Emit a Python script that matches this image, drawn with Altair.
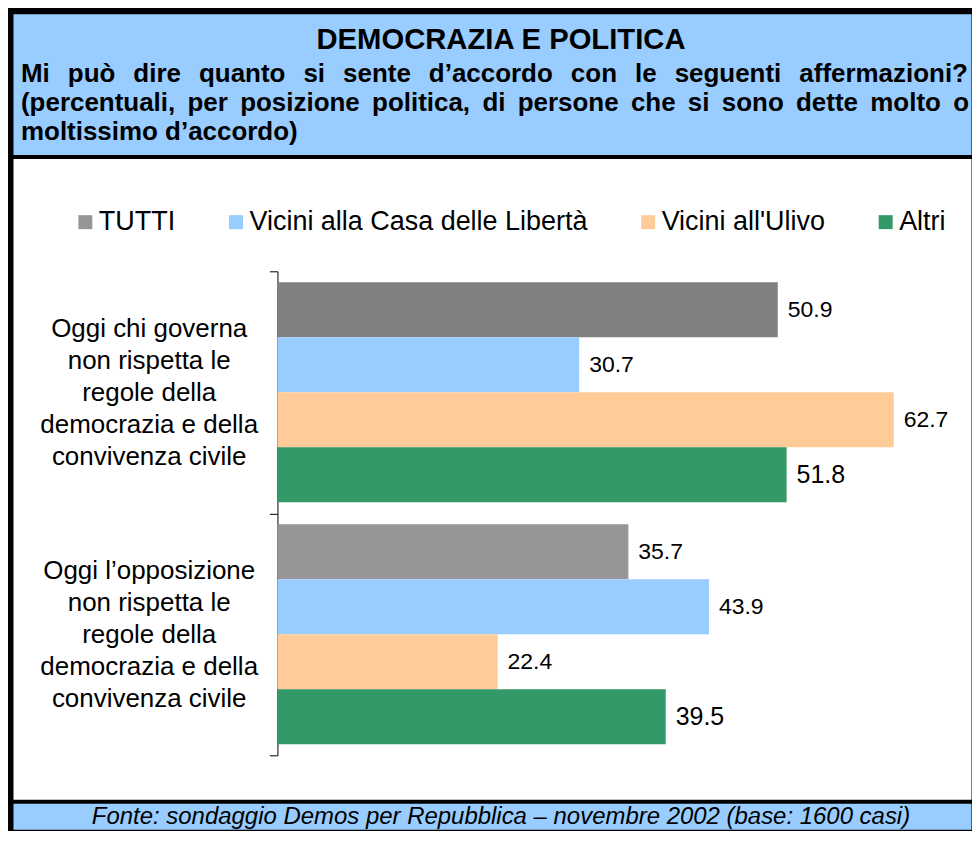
import altair as alt
import pandas as pd

# ---------------- data ----------------
categorie = [
    "Oggi chi governa\nnon rispetta le\nregole della\ndemocrazia e della\nconvivenza civile",
    "Oggi l’opposizione\nnon rispetta le\nregole della\ndemocrazia e della\nconvivenza civile",
]
serie = ["TUTTI", "Vicini alla Casa delle Libertà", "Vicini all'Ulivo", "Altri"]
valori_governo = [50.9, 30.7, 62.7, 51.8]
valori_opposizione = [35.7, 43.9, 22.4, 39.5]
colori = ["#969696", "#99CCFF", "#FFCC99", "#339966"]
chiave_tutti_governo = "TUTTI (governo)"
colore_tutti_governo = "#808080"

titolo = "DEMOCRAZIA E POLITICA"
sottotitolo = [
    "Mi può dire quanto si sente d’accordo con le seguenti affermazioni?",
    "(percentuali, per posizione politica, di persone che si sono dette molto o",
    "moltissimo d’accordo)",
]
fonte = "Fonte: sondaggio Demos per Repubblica – novembre 2002 (base: 1600 casi)"

rows = []
for cat, vals in zip(categorie, [valori_governo, valori_opposizione]):
    for s, v in zip(serie, vals):
        key = chiave_tutti_governo if (cat == categorie[0] and s == "TUTTI") else s
        rows.append({"categoria": cat, "serie": s, "colore": key, "valore": v})
df = pd.DataFrame(rows)

FONT = "Liberation Sans"
W = 960
BLUE = "#99CCFF"
X0 = 265
PX_PER = 9.85

# ---------------- header (justified subtitle, Arial-Bold metrics) ----------------
BOLD_W = {" ": 278, "(": 333, ")": 333, ",": 278, "?": 611, "’": 278, "M": 833,
          "a": 556, "b": 611, "c": 556, "d": 611, "e": 556, "f": 333, "g": 611,
          "h": 611, "i": 278, "j": 278, "k": 556, "l": 278, "m": 889, "n": 611,
          "o": 611, "p": 611, "q": 611, "r": 389, "s": 556, "t": 333, "u": 611,
          "v": 556, "w": 778, "x": 556, "y": 556, "z": 500, "ò": 611}
SUB_SIZE = 26
SUB_LEFT = 8
SUB_RIGHT = [W - 3, W - 2, None]   # justified lines end here; last line left-aligned


def word_width(w):
    return sum(BOLD_W.get(ch, 556) for ch in w) * SUB_SIZE / 1000.0


words = []
for i, line in enumerate(sottotitolo):
    ws = line.split(" ")
    y = 60 + 29 * i
    if SUB_RIGHT[i] is None or len(ws) < 2:
        words.append({"w": line, "x": SUB_LEFT, "y": y})
        continue
    total = sum(word_width(w) for w in ws)
    gap = (SUB_RIGHT[i] - SUB_LEFT - total) / (len(ws) - 1)
    x = SUB_LEFT
    for w in ws:
        words.append({"w": w, "x": x, "y": y})
        x += word_width(w) + gap
words_df = pd.DataFrame(words)

title_layer = alt.Chart(pd.DataFrame({"t": [titolo]})).mark_text(
    align="center", baseline="middle", font=FONT, fontSize=29.3,
    fontWeight="bold", color="black",
).encode(x=alt.value(489), y=alt.value(26), text="t:N")

sub_layer = alt.Chart(words_df).mark_text(
    align="left", baseline="middle", font=FONT, fontSize=SUB_SIZE,
    fontWeight="bold", color="black",
).encode(x=alt.X("x:Q", scale=None, axis=None),
         y=alt.Y("y:Q", scale=None, axis=None), text="w:N")

header = alt.layer(title_layer, sub_layer).properties(
    width=W, height=141, view=alt.ViewBackground(fill=BLUE, stroke="transparent")
)

# ---------------- main ----------------
base = alt.Chart(df).encode(
    y=alt.Y(
        "categoria:N", sort=categorie,
        scale=alt.Scale(range=[113, 598], paddingInner=0, paddingOuter=0),
        axis=alt.Axis(
            title=None, offset=-X0,
            labelExpr="split(datum.label, '\\n')",
            labelFontSize=26, labelLineHeight=32, labelAlign="center",
            labelBaseline="middle", labelPadding=121, labelLimit=400,
            labelOffset=-64,
            labelFont=FONT, labelColor="black",
            tickSize=8, tickBand="extent", tickColor="black", tickWidth=1,
            domainColor="black", domainWidth=1, grid=False,
        ),
    ),
    yOffset=alt.YOffset("serie:N", sort=serie,
                        scale=alt.Scale(paddingInner=0, paddingOuter=0.2)),
    x=alt.X("valore:Q", scale=alt.Scale(domain=[0, 70], range=[X0, X0 + 70 * PX_PER]),
            axis=None),
)

bars = base.mark_bar().encode(
    color=alt.Color(
        "colore:N",
        scale=alt.Scale(domain=serie + [chiave_tutti_governo],
                        range=colori + [colore_tutti_governo]),
        legend=alt.Legend(
            values=serie, title=None, orient="none", legendX=59, legendY=195,
            direction="horizontal", symbolType="square", symbolSize=196,
            symbolStrokeWidth=0, labelFontSize=27, labelFont=FONT,
            labelColor="black", labelOffset=0, columnPadding=47, labelLimit=600,
        ),
    )
)

labels = base.mark_text(align="left", baseline="middle", dx=10, font=FONT,
                        color="black").encode(
    text=alt.Text("valore:Q", format=".1f"),
    size=alt.condition(alt.datum.serie == "Altri", alt.value(25), alt.value(23)),
)

main = alt.layer(bars, labels).properties(
    width=W, height=642, view=alt.ViewBackground(fill="white", stroke="transparent")
)

# ---------------- footer ----------------
footer = alt.Chart(pd.DataFrame({"t": [fonte]})).mark_text(
    align="center", baseline="middle", font=FONT, fontSize=24,
    fontStyle="italic", color="black",
).encode(x=alt.value(489), y=alt.value(14), text="t:N").properties(
    width=W, height=26, view=alt.ViewBackground(fill=BLUE, stroke="transparent")
)

chart = alt.vconcat(header, main, footer, spacing=4, bounds="flush").properties(
    background="black",
    padding={"left": 4, "top": 4, "right": 0, "bottom": 0},
).configure_view(stroke="transparent")

chart.save("out.html", embed_options={"renderer": "svg", "actions": False})
